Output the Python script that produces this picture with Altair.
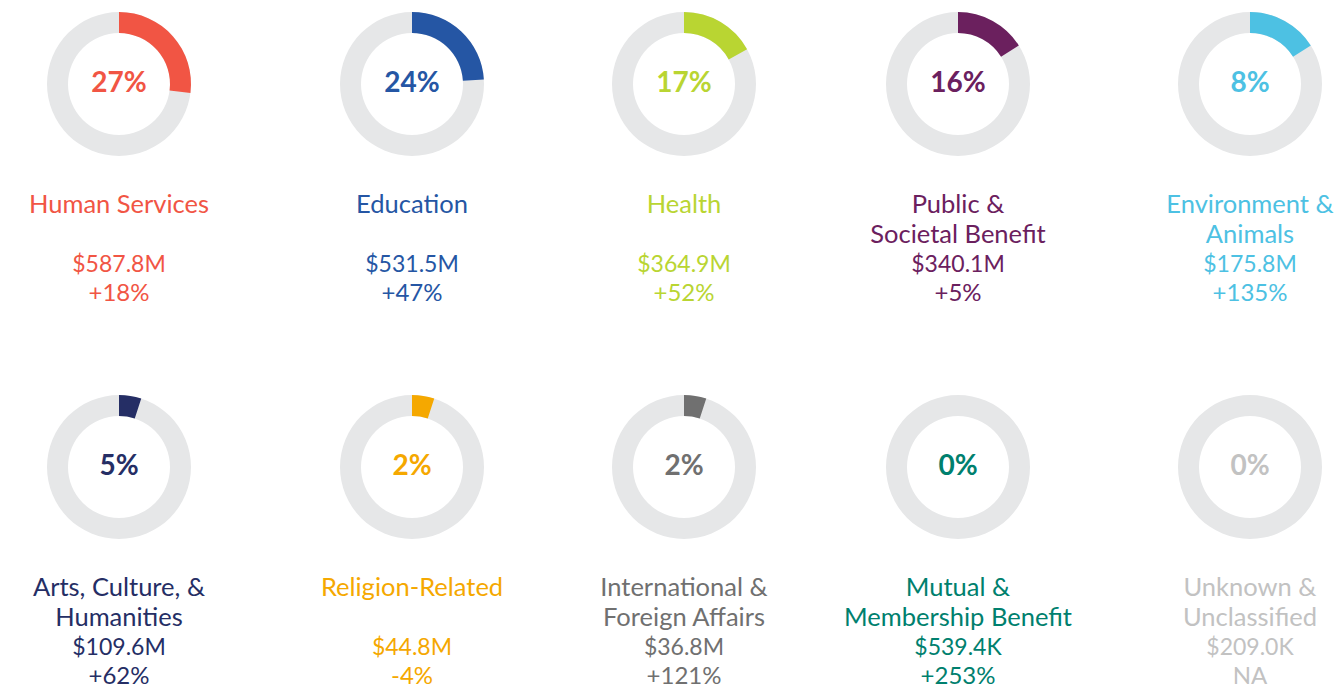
import altair as alt
import pandas as pd

categories = ["Human Services", "Education", "Health", "Public & Societal Benefit",
              "Environment & Animals", "Arts, Culture, & Humanities", "Religion-Related",
              "International & Foreign Affairs", "Mutual & Membership Benefit",
              "Unknown & Unclassified"]
name_line1 = ["Human Services", "Education", "Health", "Public &", "Environment &",
              "Arts, Culture, &", "Religion-Related", "International &", "Mutual &", "Unknown &"]
name_line2 = ["", "", "", "Societal Benefit", "Animals", "Humanities", "",
              "Foreign Affairs", "Membership Benefit", "Unclassified"]
pct_labels = ["27%", "24%", "17%", "16%", "8%", "5%", "2%", "2%", "0%", "0%"]
arc_share = [27, 24, 17, 16, 16, 5, 5, 5, 0, 0]
amounts = ["$587.8M", "$531.5M", "$364.9M", "$340.1M", "$175.8M",
           "$109.6M", "$44.8M", "$36.8M", "$539.4K", "$209.0K"]
changes = ["+18%", "+47%", "+52%", "+5%", "+135%", "+62%", "-4%", "+121%", "+253%", "NA"]
colors = ["#F15544", "#2556A4", "#B9D532", "#6B205E", "#4DC1E3",
          "#252E65", "#F5A800", "#707070", "#00806E", "#C2C2C2"]
col_idx = [0, 1, 2, 3, 4, 0, 1, 2, 3, 4]
row_idx = [0, 0, 0, 0, 0, 1, 1, 1, 1, 1]

df = pd.DataFrame({
    "cat": categories, "n1": name_line1, "n2": name_line2, "pct": pct_labels,
    "share": arc_share, "zero": [0] * len(categories), "amt": amounts, "chg": changes,
    "col": col_idx, "row": row_idx,
})

FONT = "Lato"
x = alt.X("col:Q", scale=alt.Scale(domain=[0, 1, 2, 3, 4], range=[111, 404, 676, 950, 1242]),
          axis=None)
y = alt.Y("row:Q", scale=alt.Scale(domain=[0, 1], range=[76, 459]), axis=None)
color = alt.Color("cat:N", scale=alt.Scale(domain=categories, range=colors), legend=None)

base = alt.Chart(df)

ring = base.mark_arc(innerRadius=51, outerRadius=72, theta=0, theta2=6.2832,
                     color="#E6E7E8").encode(x=x, y=y)

arc = base.mark_arc(innerRadius=51, outerRadius=72).encode(
    x=x, y=y,
    theta=alt.Theta("zero:Q", scale=alt.Scale(domain=[0, 100], range=[0, 6.2832]), stack=False),
    theta2="share:Q",
    color=color,
)

center = base.mark_text(font=FONT, fontSize=28, fontWeight="bold", baseline="middle",
                        align="center").encode(x=x, y=y, text="pct:N", color=color)

def line(field, dy, size=24):
    return base.mark_text(font=FONT, fontSize=size, baseline="middle", align="center",
                          dy=dy).encode(x=x, y=y, text=f"{field}:N", color=color)

chart = alt.layer(
    ring, arc, center,
    line("n1", 121, 25.5), line("n2", 151, 25.5),
    line("amt", 181, 23), line("chg", 210, 24),
).properties(
    width=1328, height=682,
    autosize=alt.AutoSizeParams(type="none"),
    padding=0,
    background="white",
).configure_view(stroke=None)

chart.save("out.html", embed_options={"renderer": "svg", "actions": False})
